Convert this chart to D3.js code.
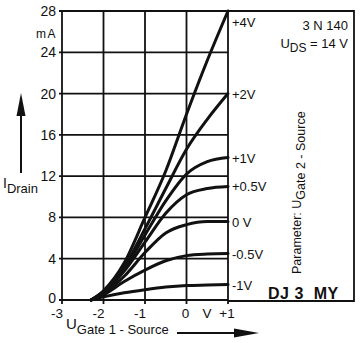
<!DOCTYPE html>
<html>
<head>
<meta charset="utf-8">
<script src="https://cdn.jsdelivr.net/npm/d3@7"></script>
<style>
  html, body { margin: 0; padding: 0; background: #fff; }
  svg { display: block; font-family: "Liberation Sans", Arial, sans-serif; }
</style>
</head>
<body>
<svg id="chart" width="362" height="343"></svg>
<script>
// Gate-1 voltage sample points (V)
const ugate1 = [-2.3, -2, -1.5, -1, -0.5, 0, 0.5, 1];

// Drain current (mA) for each Gate-2 parameter
const idPlus4   = [0, 0.9, 3.6, 8.0, 12.5, 18.0, 23.2, 28.0];
const idPlus2   = [0, 0.8, 3.2, 6.9, 10.8, 14.6, 17.5, 20.0];
const idPlus1   = [0, 0.7, 3.0, 6.3, 9.6, 12.2, 13.4, 13.8];
const idPlus05  = [0, 0.7, 2.8, 5.6, 8.4, 10.2, 10.8, 11.0];
const idZero    = [0, 0.6, 2.3, 4.6, 6.5, 7.3, 7.6, 7.6];
const idMinus05 = [0, 0.5, 1.8, 2.9, 3.8, 4.3, 4.45, 4.5];
const idMinus1  = [0, 0.3, 0.7, 1.0, 1.25, 1.4, 1.45, 1.5];

const seriesLabels = ["+4V", "+2V", "+1V", "+0.5V", "0 V", "-0.5V", "-1V"];
const seriesValues = [idPlus4, idPlus2, idPlus1, idPlus05, idZero, idMinus05, idMinus1];

const xTicks = [-3, -2, -1, 0, 1];
const xTickLabels = ["-3", "-2", "-1", "0", "+1"];
const yTicks = [0, 4, 8, 12, 16, 20, 24, 28];

const svg = d3.select("#chart");
const ink = "#111";

const x = d3.scaleLinear().domain([-3, 1]).range([62, 228]);
const y = d3.scaleLinear().domain([0, 28]).range([300, 11]);

// Grid
const grid = svg.append("g").attr("stroke", ink).attr("stroke-width", 1.8);
grid.selectAll("line.h").data(yTicks).join("line")
  .attr("x1", x(-3) - 3).attr("x2", x(1))
  .attr("y1", d => y(d)).attr("y2", d => y(d));
grid.selectAll("line.v").data(xTicks).join("line")
  .attr("x1", d => x(d)).attr("x2", d => x(d))
  .attr("y1", y(28)).attr("y2", y(0) + 4);

// Frame extending to the right of the plot
const boxRight = 354;
grid.append("path")
  .attr("fill", "none")
  .attr("d", `M${x(1)},${y(28)} H${boxRight} V${y(0) + 1} H${x(1)}`);

// Y axis labels
const yAxis = d3.axisLeft(y).tickValues(yTicks).tickSize(0).tickPadding(5);
const gy = svg.append("g").attr("transform", `translate(${x(-3) - 1},0)`).call(yAxis);
gy.select(".domain").remove();
gy.selectAll("text").attr("font-size", 14).attr("fill", ink).attr("font-family", "Liberation Sans, Arial, sans-serif");
gy.selectAll(".tick").filter(d => d === 0).select("text").attr("dy", "0.2em");

svg.append("text").attr("x", 57).attr("y", 38).attr("text-anchor", "end")
  .attr("font-size", 12).attr("letter-spacing", 1.5).attr("fill", ink).text("mA");

// X axis labels
const gx = svg.append("g");
gx.selectAll("text").data(xTicks).join("text")
  .attr("x", d => d < 0 ? x(d) + 1 : x(d) - 1)
  .attr("y", 318)
  .attr("text-anchor", d => d < 0 ? "end" : "middle")
  .attr("font-size", 13.5).attr("fill", ink)
  .text((d, i) => xTickLabels[i]);
svg.append("text").attr("x", 207).attr("y", 318).attr("text-anchor", "middle")
  .attr("font-size", 13.5).attr("fill", ink).text("V");

// Curves
const line = d3.line()
  .x((d, i) => x(ugate1[i]))
  .y(d => y(d))
  .curve(d3.curveMonotoneX);
svg.append("g").selectAll("path").data(seriesValues).join("path")
  .attr("d", d => line(d))
  .attr("fill", "none").attr("stroke", ink).attr("stroke-width", 3)
  .attr("stroke-linejoin", "round").attr("stroke-linecap", "round");

// Curve labels at the right end (the topmost one is nudged below the frame)
svg.append("g").selectAll("text").data(seriesValues).join("text")
  .attr("x", x(1) + 4)
  .attr("y", d => Math.max(y(d[d.length - 1]) + 5, y(28) + 16))
  .attr("font-size", 13).attr("fill", ink)
  .text((d, i) => seriesLabels[i]);

// Device info
svg.append("text").attr("x", 348).attr("y", 30).attr("text-anchor", "end")
  .attr("font-size", 13).attr("fill", ink).text("3 N 140");
const uds = svg.append("text").attr("x", 348).attr("y", 48).attr("text-anchor", "end")
  .attr("font-size", 13).attr("fill", ink);
uds.append("tspan").text("U");
uds.append("tspan").attr("dy", 4).attr("font-size", 12).text("DS");
uds.append("tspan").attr("dy", -4).text(" = 14 V");

// Parameter caption (rotated)
const par = svg.append("text")
  .attr("transform", "translate(301,274) rotate(-90)")
  .attr("font-size", 12.5).attr("fill", ink);
par.append("tspan").text("Parameter: U");
par.append("tspan").attr("dy", 4).text("Gate 2 - Source");

svg.append("text").attr("x", 268).attr("y", 299)
  .attr("font-size", 16).attr("font-weight", "bold").attr("letter-spacing", 0.5)
  .attr("fill", ink).attr("xml:space", "preserve").text("DJ 3  MY");

// Y axis title with arrow
const yt = svg.append("text").attr("x", 3).attr("y", 188).attr("font-size", 14).attr("fill", ink);
yt.append("tspan").text("I");
yt.append("tspan").attr("dy", 5).attr("font-size", 13).text("Drain");
svg.append("line").attr("x1", 21).attr("x2", 21).attr("y1", 173).attr("y2", 112)
  .attr("stroke", ink).attr("stroke-width", 2);
svg.append("path").attr("d", "M21,93 L25.5,116 L16.5,116 Z").attr("fill", ink);

// X axis title with arrow
const xt = svg.append("text").attr("x", 66).attr("y", 329).attr("font-size", 15).attr("fill", ink);
xt.append("tspan").text("U");
xt.append("tspan").attr("dy", 5).attr("font-size", 13).text("Gate 1 - Source");
svg.append("line").attr("x1", 177).attr("x2", 238).attr("y1", 333).attr("y2", 333)
  .attr("stroke", ink).attr("stroke-width", 2);
svg.append("path").attr("d", "M259,333 L234,328.5 L234,337.5 Z").attr("fill", ink);
</script>
</body>
</html>
